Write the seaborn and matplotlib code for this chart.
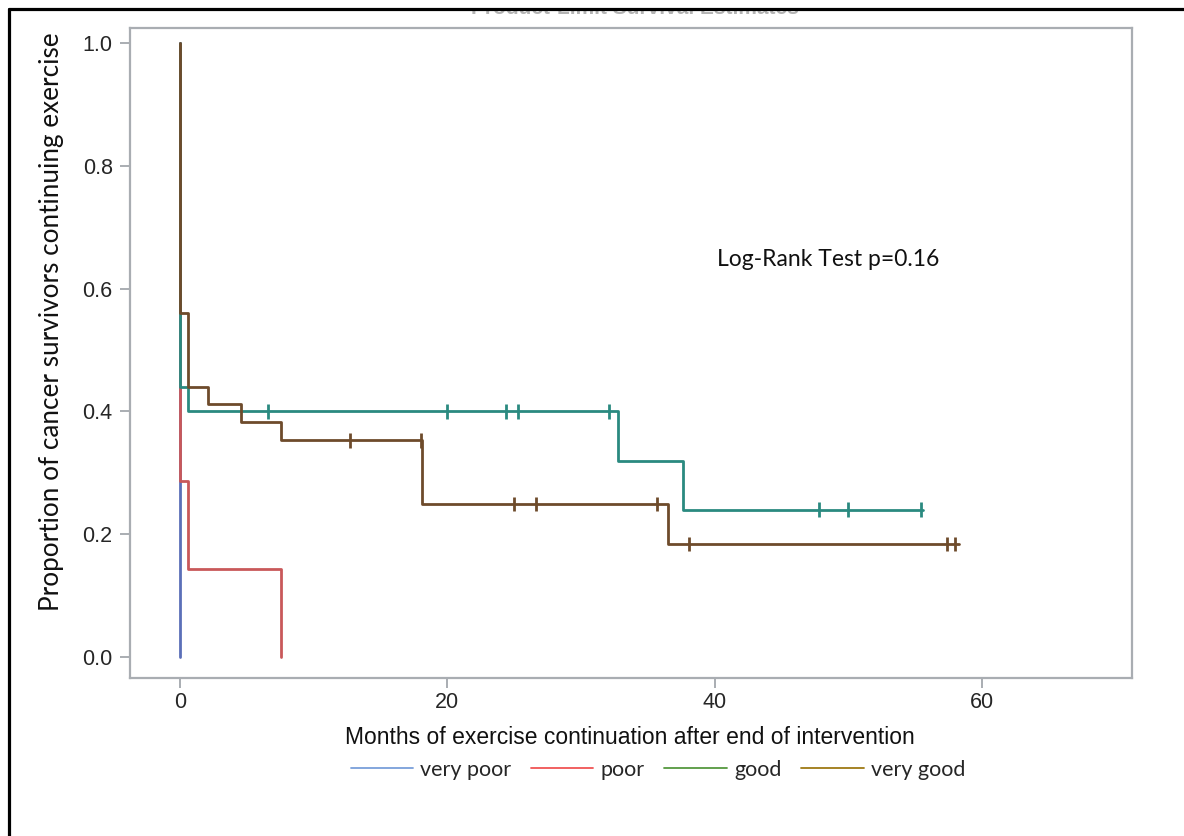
import numpy as np
import pandas as pd
import matplotlib
matplotlib.use("Agg")
import matplotlib.pyplot as plt
import seaborn as sns
from matplotlib.lines import Line2D
from matplotlib.patches import Rectangle

# ---------------- data ----------------
groups = ["very poor", "poor", "good", "very good"]

# step curves: time of each step, survival after that step (first point = start)
vp_time = [0.0, 0.0]
vp_surv = [1.0, 0.0]

poor_time = [0.0, 0.0, 0.6, 7.55, 7.55]
poor_surv = [1.0, 0.286, 0.143, 0.0, 0.0]

good_time = [0.0, 0.0, 0.6, 32.8, 37.6, 55.6]
good_surv = [1.0, 0.44, 0.40, 0.32, 0.24, 0.24]

vgood_time = [0.0, 0.0, 0.6, 2.1, 4.6, 7.55, 18.1, 36.5, 58.3]
vgood_surv = [1.0, 0.56, 0.44, 0.412, 0.383, 0.353, 0.249, 0.184, 0.184]

# censored observations
good_cens_t = [6.6, 20.0, 24.4, 25.3, 32.1, 47.8, 50.0, 55.4]
good_cens_s = [0.40, 0.40, 0.40, 0.40, 0.40, 0.24, 0.24, 0.24]
vgood_cens_t = [12.7, 18.0, 25.0, 26.6, 35.7, 38.1, 57.4, 58.0]
vgood_cens_s = [0.353, 0.353, 0.249, 0.249, 0.249, 0.184, 0.184, 0.184]

line_colors = ["#5B6FB8", "#C9585A", "#2A8A80", "#6E4B2B"]
legend_colors = ["#7A9FDA", "#F05454", "#55993F", "#9E7A14"]

x_ticks = [0, 20, 40, 60]
y_ticks = [0.0, 0.2, 0.4, 0.6, 0.8, 1.0]
x_label = "Months of exercise continuation after end of intervention"
y_label = "Proportion of cancer survivors continuing exercise"
annot = "Log-Rank Test p=0.16"
title = "Product-Limit Survival Estimates"

# ---------------- frames ----------------
curves = pd.concat([
    pd.DataFrame({"t": vp_time, "s": vp_surv, "g": groups[0]}),
    pd.DataFrame({"t": poor_time, "s": poor_surv, "g": groups[1]}),
    pd.DataFrame({"t": good_time, "s": good_surv, "g": groups[2]}),
    pd.DataFrame({"t": vgood_time, "s": vgood_surv, "g": groups[3]}),
], ignore_index=True)
cens = pd.concat([
    pd.DataFrame({"t": good_cens_t, "s": good_cens_s, "g": groups[2]}),
    pd.DataFrame({"t": vgood_cens_t, "s": vgood_cens_s, "g": groups[3]}),
], ignore_index=True)

sns.set_theme(style="white")
plt.rcParams["font.family"] = ["Liberation Sans", "DejaVu Sans"]

fig = plt.figure(figsize=(11.84, 8.36), dpi=100)
ax = fig.add_axes([130 / 1184, 1 - 678 / 836, 1002 / 1184, 650 / 836])

pal = dict(zip(groups, line_colors))
sns.lineplot(data=curves, x="t", y="s", hue="g", hue_order=groups, palette=pal,
             estimator=None, sort=False, drawstyle="steps-post", linewidth=2.0,
             legend=False, ax=ax)
sns.scatterplot(data=cens, x="t", y="s", hue="g", hue_order=groups, palette=pal,
                marker="|", s=110, linewidth=2.0, legend=False, ax=ax, zorder=5)

ax.set_xlim(-3.74, 71.22)
ax.set_ylim(-0.0342, 1.0244)
ax.set_xticks(x_ticks)
ax.set_yticks(y_ticks)
ax.set_xticklabels([str(v) for v in x_ticks])
ax.set_yticklabels([f"{v:.1f}" for v in y_ticks])
ax.set_xlabel("")
ax.set_ylabel("")
for sp in ax.spines.values():
    sp.set_color("#A9ADB2")
    sp.set_linewidth(1.6)
ax.tick_params(axis="both", which="major", length=7.5, width=1.4, color="#A9ADB2",
               labelsize=15.5, labelcolor="#262626", bottom=True, left=True,
               direction="out")
ax.tick_params(axis="y", pad=5)
ax.tick_params(axis="x", pad=2.5)

ax.text(717 / 1184, 1 - 260 / 836, annot, transform=fig.transFigure,
        fontsize=16.5, family=["Lato", "DejaVu Sans"], va="center", ha="left",
        color="#111111")

fig.text(630 / 1184, 1 - 738 / 836, x_label, fontsize=16.5, ha="center",
         va="center", color="#111111")
fig.text(52 / 1184, 1 - 322 / 836, y_label, fontsize=18.8, rotation=90,
         ha="center", va="center", family=["Lato", "DejaVu Sans"],
         color="#111111")

handles = [Line2D([0], [0], color=c, lw=1.3) for c in legend_colors]
fig.legend(handles, groups, loc="center", bbox_to_anchor=(658 / 1184, 1 - 770 / 836),
           ncol=4, frameon=False, prop={"family": ["Lato", "DejaVu Sans"], "size": 15.5},
           handlelength=2.9, handletextpad=0.35, columnspacing=0.9)

# clipped title fragment + outer frame
fig.text(635 / 1184, 1 - 13.5 / 836, title, fontsize=15, fontweight="bold",
         ha="center", va="baseline", color="#B4B4B4", zorder=1)
fig.patches.append(Rectangle((0, 1 - 9.5 / 836), 1, 9.5 / 836, transform=fig.transFigure,
                             facecolor="white", edgecolor="none", zorder=10))
fig.add_artist(Line2D([8.5 / 1184, 1.0], [1 - 8.5 / 836, 1 - 8.5 / 836],
                      transform=fig.transFigure, color="black", lw=2.3, zorder=11))
fig.add_artist(Line2D([8.5 / 1184, 8.5 / 1184], [0.0, 1 - 8.5 / 836],
                      transform=fig.transFigure, color="black", lw=2.3, zorder=11))

fig.savefig("out.png", dpi=100)
